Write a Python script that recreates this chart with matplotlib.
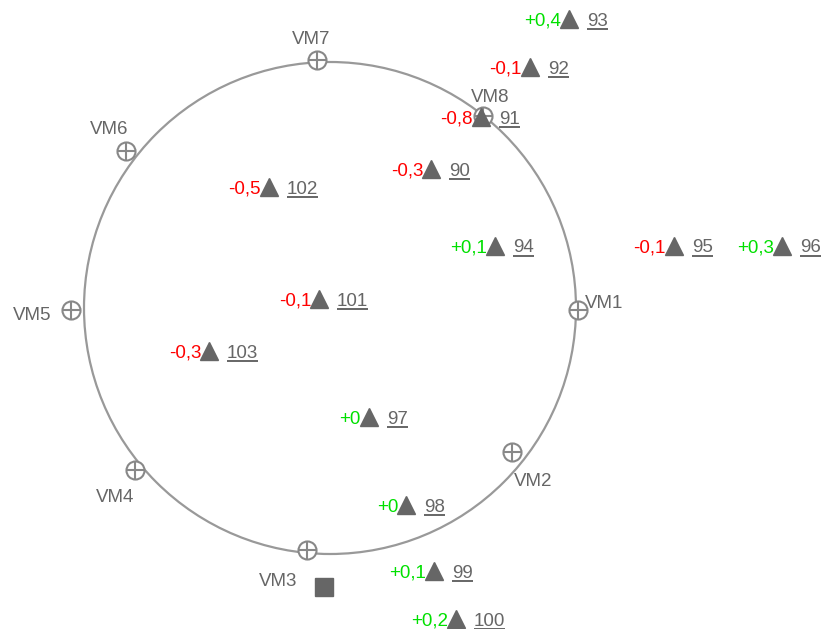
import matplotlib.pyplot as plt
from matplotlib.patches import Circle

plt.rcParams['font.family'] = ['Liberation Sans', 'DejaVu Sans']

# VM positions (pixel space of the original layout)
vm_names = ["VM1", "VM2", "VM3", "VM4", "VM5", "VM6", "VM7", "VM8"]
vm_x = [578, 512, 307, 135, 71, 126, 317, 483]
vm_y = [310, 452, 550, 470, 310, 151, 60, 116]

# measured points
pt_ids = [90, 91, 92, 93, 94, 95, 96, 97, 98, 99, 100, 101, 102, 103]
pt_x = [431, 481, 530, 569, 495, 674, 782, 369, 406, 434, 456, 319, 269, 209]
pt_y = [169, 117, 67, 19, 246, 246, 246, 417, 505, 571, 619, 299, 187, 351]
pt_delta = ["-0,3", "-0,8", "-0,1", "+0,4", "+0,1", "-0,1", "+0,3",
            "+0", "+0", "+0,1", "+0,2", "-0,1", "-0,5", "-0,3"]

ref_x, ref_y = 324, 587

grey = "#666666"
fs = 13.5
fig = plt.figure(figsize=(8.25, 6.29), dpi=100)
ax = fig.add_axes([0, 0, 1, 1])
ax.set_xlim(0, 825)
ax.set_ylim(629, 0)
ax.axis("off")

ax.add_patch(Circle((330, 308), 246, fill=False, ec="#999999", lw=1.6))

# vm markers
ax.plot(vm_x, vm_y, "o", ms=13, mfc="white", mec="#888888", mew=1.5, ls="none")
ax.plot(vm_x, vm_y, "+", ms=13, mec="#888888", mew=1.5, ls="none")
vm_off = {"VM1": (7, -7, "left"), "VM2": (2, 30, "left"), "VM3": (-10, 31, "right"),
          "VM4": (-1, 27, "right"), "VM5": (-20, 6, "right"), "VM6": (2, -21, "right"),
          "VM7": (-6, -20, "center"), "VM8": (7, -19, "center")}
for name, x, y in zip(vm_names, vm_x, vm_y):
    dx, dy, ha = vm_off[name]
    ax.text(x + dx, y + dy, name, color=grey, fontsize=fs, ha=ha, va="center")

# triangles + labels
ax.plot(pt_x, pt_y, "^", ms=13, color=grey, ls="none")
ax.plot([ref_x], [ref_y], "s", ms=13, color=grey)

fig.canvas.draw()
renderer = fig.canvas.get_renderer()
inv = ax.transData.inverted()
for pid, x, y, d in zip(pt_ids, pt_x, pt_y, pt_delta):
    col = "#ff0000" if d.startswith("-") else "#00e000"
    ax.text(x - 8, y + 2, d, color=col, fontsize=fs, ha="right", va="center")
    t = ax.text(x + 18, y + 2, str(pid), color=grey, fontsize=fs, ha="left", va="center")
    bb = t.get_window_extent(renderer)
    (x0, y0), (x1, y1) = inv.transform([(bb.x0, bb.y0), (bb.x1, bb.y0)])
    ax.plot([x0, x1], [y0 - 1, y0 - 1], color=grey, lw=1.4, solid_capstyle="butt")

fig.savefig("out.png", dpi=100)
